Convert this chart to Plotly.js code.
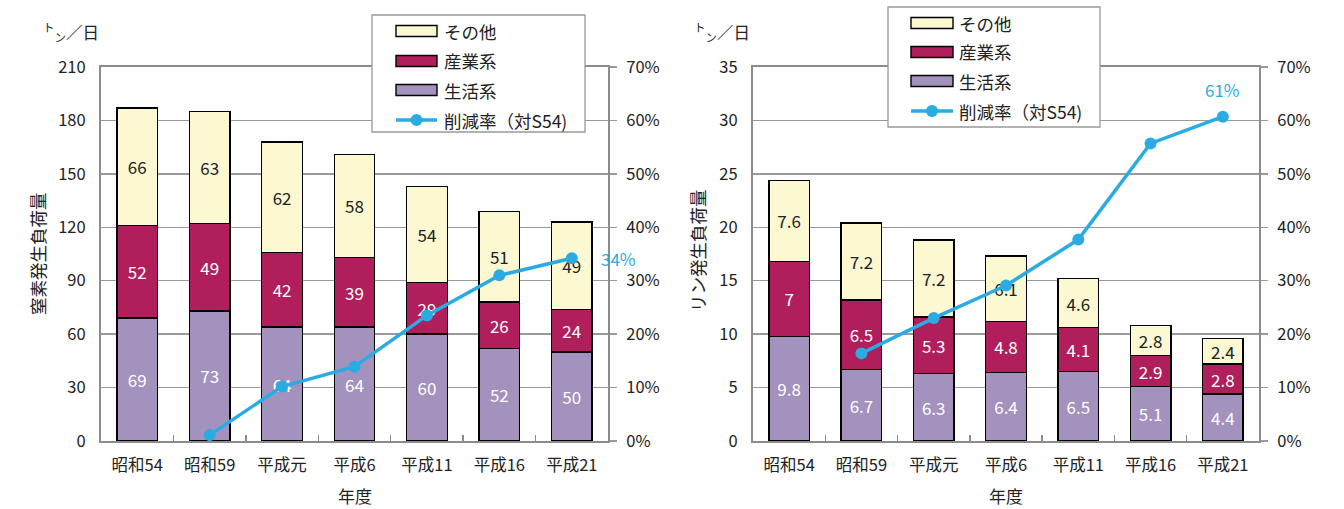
<!DOCTYPE html>
<html><head><meta charset="utf-8">
<script src="https://cdn.plot.ly/plotly-3.0.1.min.js"></script>
<style>html,body{margin:0;padding:0;background:#fff}#c{width:1344px;height:509px}</style>
</head><body><div id="c"></div>
<script>
// ---- data ----
const categories = ['昭和54','昭和59','平成元','平成6','平成11','平成16','平成21'];
// 窒素 (ﾄﾝ/日)
const nSeikatsu = [69,73,64,64,60,52,50];
const nSangyo   = [52,49,42,39,29,26,24];
const nSonota   = [66,63,62,58,54,51,49];
const nRate     = [null,1.1,10.2,13.9,23.5,31.0,34.2]; // %
// リン (ﾄﾝ/日)
const pSeikatsu = [9.8,6.7,6.3,6.4,6.5,5.1,4.4];
const pSangyo   = [7,6.5,5.3,4.8,4.1,2.9,2.8];
const pSonota   = [7.6,7.2,7.2,6.1,4.6,2.8,2.4];
const pRate     = [null,16.4,23.0,29.1,37.7,55.7,60.7]; // %
const seriesNames = ['その他','産業系','生活系','削減率（対S54)'];
const nRateLabel = '34%';
const pRateLabel = '61%';

// ---- style ----
const W=1344,H=509;
const px=x=>x/W, py=y=>1-y/H;
const FONT='"Noto Sans CJK JP","Noto Sans",sans-serif';
const C_SONOTA='#FBF8D2', C_SANGYO='#B01E5B', C_SEIKATSU='#A391BE', C_LINE='#2AACE2';
const GRID='#9a9a9a', AXIS='#8c8c8c';

function bars(vals,name,color,txtColor,xa,ya){
  return {type:'bar',x:categories,y:vals,name:name,xaxis:xa,yaxis:ya,
    marker:{color:color,line:{color:'#000',width:1.4}},
    text:vals.map(v=>String(v)),textposition:'inside',insidetextanchor:'middle',
    textangle:0,constraintext:'none',
    textfont:{family:FONT,size:17,color:txtColor},hoverinfo:'skip',showlegend:false};
}
function rate(vals,xa,ya){
  return {type:'scatter',mode:'lines+markers',x:categories,y:vals,xaxis:xa,yaxis:ya,
    line:{color:C_LINE,width:3.5},marker:{color:C_LINE,size:12},showlegend:false,
    connectgaps:false,hoverinfo:'skip'};
}
const data=[
  bars(nSeikatsu,seriesNames[2],C_SEIKATSU,'#fff','x','y'),
  bars(nSangyo,seriesNames[1],C_SANGYO,'#fff','x','y'),
  bars(nSonota,seriesNames[0],C_SONOTA,'#222','x','y'),
  rate(nRate,'x','y2'),
  bars(pSeikatsu,seriesNames[2],C_SEIKATSU,'#fff','x2','y3'),
  bars(pSangyo,seriesNames[1],C_SANGYO,'#fff','x2','y3'),
  bars(pSonota,seriesNames[0],C_SONOTA,'#222','x2','y3'),
  rate(pRate,'x2','y4'),
];

const ydom=[py(441),py(67)];
const tickF={family:FONT,size:16.5,color:'#222'};
function xax(dom,anchor){
  return {domain:dom,anchor:anchor,type:'category',range:[-0.5,categories.length-0.5],autorange:false,
    showline:true,linecolor:AXIS,linewidth:2,
    mirror:true,ticks:'inside',tickson:'boundaries',ticklen:6,tickcolor:AXIS,tickwidth:1.5,
    tickfont:tickF,showgrid:false,ticklabelstandoff:8,fixedrange:true};
}
function yleft(dom,anchor,maxv,dt){
  return {domain:ydom,anchor:anchor,range:[0,maxv],dtick:dt,tick0:0,showline:true,linecolor:AXIS,linewidth:2,
    showgrid:true,gridcolor:GRID,gridwidth:1.3,zeroline:false,ticks:'',tickfont:tickF,ticklabelstandoff:10,fixedrange:true};
}
function yright(anchor,overlay){
  return {overlaying:overlay,anchor:anchor,side:'right',range:[0,70],dtick:10,tick0:0,ticksuffix:'%',
    showline:true,linecolor:AXIS,linewidth:2,showgrid:false,zeroline:false,ticks:'outside',ticklen:7,
    tickcolor:GRID,tickwidth:1.3,tickfont:tickF,ticklabelstandoff:6,fixedrange:true};
}
const layout={
  width:W,height:H,margin:{l:0,r:0,t:0,b:0},paper_bgcolor:'#fff',plot_bgcolor:'#fff',
  barmode:'stack',bargap:0.44,showlegend:false,font:{family:FONT,size:16,color:'#222'},
  xaxis:xax([px(101),px(608)],'y'),
  yaxis:yleft(ydom,'x',210,30),
  yaxis2:yright('x','y'),
  xaxis2:xax([px(753),px(1259)],'y3'),
  yaxis3:yleft(ydom,'x2',35,5),
  yaxis4:yright('x2','y3'),
  shapes:[],annotations:[]
};
const A=layout.annotations,S=layout.shapes;
function txt(x,y,t,opt){A.push(Object.assign({xref:'paper',yref:'paper',x:px(x),y:py(y),text:t,showarrow:false,
  font:{family:FONT,size:17.5,color:'#222'},xanchor:'left',yanchor:'middle'},opt||{}));}
// axis titles / units
txt(37,254,'窒素発生負荷量',{textangle:-90,xanchor:'center'});
txt(697,251,'リン発生負荷量',{textangle:-90,xanchor:'center'});
txt(355,495,'年度',{xanchor:'center',font:{family:FONT,size:17,color:'#222'}});
txt(1006,495,'年度',{xanchor:'center',font:{family:FONT,size:17,color:'#222'}});
txt(41,32,'<sup>ト</sup><sub>ン</sub>／日',{font:{family:FONT,size:16.5,color:'#222'}});
txt(692,32,'<sup>ト</sup><sub>ン</sub>／日',{font:{family:FONT,size:16.5,color:'#222'}});
// rate labels
A.push({xref:'x',yref:'y2',x:categories[6],y:nRate[6],text:nRateLabel,showarrow:false,xshift:47,
  font:{family:FONT,size:17,color:C_LINE}});
A.push({xref:'x2',yref:'y4',x:categories[6],y:pRate[6],text:pRateLabel,showarrow:false,yshift:27,
  font:{family:FONT,size:17,color:C_LINE}});
// manual legends
function legend(bx0,by0,bx1,by1,sx0,sx1,tx,rows){
  S.push({type:'rect',xref:'paper',yref:'paper',x0:px(bx0),x1:px(bx1),y0:py(by1),y1:py(by0),
    line:{color:'#999',width:1.3},fillcolor:'#fff',layer:'above'});
  const cols=[C_SONOTA,C_SANGYO,C_SEIKATSU];
  for(let i=0;i<3;i++){
    S.push({type:'rect',xref:'paper',yref:'paper',x0:px(sx0),x1:px(sx1),y0:py(rows[i]+5.5),y1:py(rows[i]-5.5),
      line:{color:'#000',width:1.4},fillcolor:cols[i],layer:'above'});
    txt(tx,rows[i],seriesNames[i]);
  }
  S.push({type:'line',xref:'paper',yref:'paper',x0:px(sx0),x1:px(sx1),y0:py(rows[3]),y1:py(rows[3]),
    line:{color:C_LINE,width:3.5},layer:'above'});
  const cx=(sx0+sx1)/2;
  S.push({type:'circle',xref:'paper',yref:'paper',x0:px(cx-6),x1:px(cx+6),y0:py(rows[3]+6),y1:py(rows[3]-6),
    line:{color:C_LINE,width:0},fillcolor:C_LINE,layer:'above'});
  txt(tx,rows[3],seriesNames[3]);
}
legend(372,15,585,132,396,437,442,[31,61,90,120]);
legend(888,7,1100,127,911,953,957,[23,52,81,111]);

Plotly.newPlot('c',data,layout,{displayModeBar:false,staticPlot:true});
</script></body></html>
